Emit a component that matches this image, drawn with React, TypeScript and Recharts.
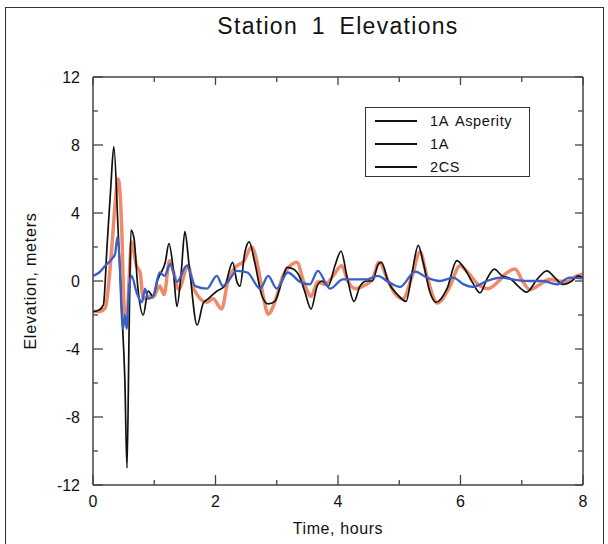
import { LineChart, Line, XAxis, YAxis, Legend } from 'recharts'

// time (hours) / elevation (m) pairs
const asperityTime = [
  0, 0.1, 0.17, 0.23, 0.29, 0.34, 0.41, 0.47, 0.52, 0.555, 0.59, 0.62, 0.67, 0.73, 0.82, 0.9, 0.98,
  1.06, 1.18, 1.24, 1.31, 1.37, 1.44, 1.5, 1.57, 1.7, 1.8, 1.88, 2.02, 2.15, 2.28, 2.35, 2.4, 2.48,
  2.55, 2.64, 2.76, 2.86, 2.97, 3.08, 3.17, 3.27, 3.38, 3.46, 3.56, 3.66, 3.74, 3.84, 3.95, 4.05,
  4.15, 4.26, 4.36, 4.47, 4.56, 4.66, 4.71, 4.82, 4.96, 5.11, 5.21, 5.31, 5.39, 5.5, 5.6, 5.78,
  5.94, 6.07, 6.19, 6.32, 6.43, 6.55, 6.68, 6.81, 6.94, 7.08, 7.25, 7.41, 7.54, 7.67, 7.82, 7.92, 8,
]
const asperityElev = [
  -1.8, -1.7, -1.4, 2.1, 5.5, 7.9, 3.0, -1.8, -5.8, -11.0, -2.8, 3.0, 2.5, -0.3, -2.0, -0.6, -0.9,
  0.1, 1.1, 2.2, 0.7, -1.5, 0.5, 2.9, 0.9, -2.6, -1.3, -1.05, -0.6, -0.3, 1.1, -0.05, -0.3, 1.7,
  2.3, 1.1, -0.9, -1.35, -1.2, -0.05, 0.8, 0.7, 0.2, -0.65, -1.65, -0.3, 0.0, -0.3, 0.9, 1.75,
  0.2, -1.2, -0.3, 0.0, 0.0, 1.0, 1.1, -0.05, -0.75, -1.2, 0.5, 2.1, 1.1, -0.65, -1.25, -0.45,
  1.2, 0.7, -0.05, -0.7, 0.1, 0.7, 0.3, 0.15, -0.3, -0.65, 0.1, 0.6, 0.2, -0.2, 0.0, 0.3, 0.2,
]

const oneATime = [
  0, 0.1, 0.2, 0.26, 0.31, 0.36, 0.41, 0.47, 0.5, 0.52, 0.55, 0.59, 0.63, 0.71, 0.77, 0.82, 0.9,
  0.98, 1.09, 1.16, 1.25, 1.31, 1.4, 1.55, 1.65, 1.86, 1.96, 2.1, 2.2, 2.35, 2.45, 2.59, 2.7, 2.78,
  2.86, 3.0, 3.1, 3.22, 3.33, 3.44, 3.56, 3.67, 3.79, 3.92, 4.06, 4.16, 4.28, 4.41, 4.56, 4.67,
  4.82, 4.93, 5.06, 5.21, 5.34, 5.45, 5.62, 5.83, 5.99, 6.12, 6.32, 6.45, 6.61, 6.73, 6.89, 7.02,
  7.13, 7.3, 7.46, 7.59, 7.74, 7.9, 8,
]
const oneAElev = [
  -1.8, -1.8, -1.6, 0.0, 2.1, 4.5, 6.0, 3.0, -0.9, -2.0, -2.6, 0.1, 2.3, 0.9, 0.5, -1.05, -0.9,
  -0.95, -0.3, -0.8, 1.2, 0.6, -0.5, 0.9, -0.5, -1.25, -1.05, -1.65, -0.05, 0.9, 1.1, 2.0, 0.7, -0.9,
  -1.95, -0.9, 0.3, 0.9, 1.1, -0.05, -0.9, -0.05, -0.2, 0.3, 0.9, 0.0, -0.45, -0.3, 0.1, 1.1,
  0.0, -0.75, -1.05, 0.3, 1.7, 0.3, -1.3, -0.3, 0.9, 0.5, -0.3, -0.45, -0.05, 0.4, 0.7, -0.05,
  -0.5, -0.2, 0.1, 0.0, -0.05, 0.3, 0.4,
]

const twoCSTime = [
  0, 0.1, 0.2, 0.31, 0.36, 0.4, 0.44, 0.46, 0.49, 0.52, 0.55, 0.59, 0.63, 0.71, 0.8, 0.85, 0.9,
  0.98, 1.09, 1.17, 1.26, 1.37, 1.53, 1.67, 1.86, 2.02, 2.12, 2.2, 2.35, 2.52, 2.73, 2.86, 3.0,
  3.18, 3.38, 3.54, 3.67, 3.87, 4.08, 4.3, 4.47, 4.65, 4.82, 5.01, 5.26, 5.45, 5.66, 5.88, 6.05,
  6.2, 6.43, 6.65, 6.92, 7.14, 7.35, 7.57, 7.78, 8,
]
const twoCSElev = [
  0.3, 0.5, 0.9, 1.3, 1.6, 2.6, 0.7, -1.25, -2.8, -2.0, -2.8, -0.3, 0.3, -0.65, -1.25, -0.45, -1.05,
  -0.9, 0.5, 0.3, 1.0, -0.05, 0.9, -0.3, -0.45, 0.3, -0.3, -0.05, 0.6, 0.5, -0.45, 0.3, -0.45,
  0.5, -0.05, -0.2, 0.6, -0.45, 0.1, 0.1, 0.1, 0.3, -0.05, -0.35, 0.55, 0.2, 0.0, 0.2, -0.2,
  -0.35, 0.0, 0.2, 0.05, 0.0, 0.0, -0.2, 0.2, 0.15,
]

const seriesNames = ['1A Asperity', '1A', '2CS']
const xTicks = [0, 1, 2, 3, 4, 5, 6, 7, 8]
const yTicks = [-12, -10, -8, -6, -4, -2, 0, 2, 4, 6, 8, 10, 12]

const toRows = (time: number[], elev: number[]) => time.map((t, i) => ({ t, v: elev[i] }))

const FONT = '"Liberation Sans", Arial, sans-serif'
const AXIS = '#444'

// ticks point into the plot; only the even ones carry a label
// eslint-disable-next-line @typescript-eslint/no-explicit-any
function BottomTick({ x, y, payload }: any) {
  const major = payload.value % 2 === 0
  return (
    <g>
      <line x1={x} x2={x} y1={y} y2={y - (major ? 10 : 5)} stroke={AXIS} strokeWidth={1.3} />
      {major && (
        <text x={x} y={y + 11} dy='0.71em' textAnchor='middle' fontSize={16} fontFamily={FONT} fill='#111'>
          {payload.value}
        </text>
      )}
    </g>
  )
}

// eslint-disable-next-line @typescript-eslint/no-explicit-any
function TopTick({ x, y, payload }: any) {
  const major = payload.value % 2 === 0
  return <line x1={x} x2={x} y1={y} y2={y + (major ? 8 : 5)} stroke={AXIS} strokeWidth={1.3} />
}

// eslint-disable-next-line @typescript-eslint/no-explicit-any
function LeftTick({ x, y, payload }: any) {
  const major = payload.value % 4 === 0
  return (
    <g>
      <line x1={x} x2={x + (major ? 10 : 5)} y1={y} y2={y} stroke={AXIS} strokeWidth={1.3} />
      {major && (
        <text x={x - 13} y={y} dy='0.355em' textAnchor='end' fontSize={16} fontFamily={FONT} fill='#111'>
          {payload.value}
        </text>
      )}
    </g>
  )
}

// eslint-disable-next-line @typescript-eslint/no-explicit-any
function RightTick({ x, y, payload }: any) {
  const major = payload.value % 4 === 0
  return <line x1={x} x2={x - (major ? 8 : 5)} y1={y} y2={y} stroke={AXIS} strokeWidth={1.3} />
}

function LegendBox() {
  return (
    <div
      style={{
        width: 163,
        height: 67,
        border: '1.5px solid #333',
        background: '#fff',
        fontFamily: FONT,
        fontSize: 14.5,
        color: '#111',
        paddingTop: 1,
        boxSizing: 'content-box',
      }}
    >
      {seriesNames.map((name) => (
        <div key={name} style={{ display: 'flex', alignItems: 'center', height: 23 }}>
          <span style={{ display: 'inline-block', width: 42, height: 0, borderTop: '2px solid #111', marginLeft: 9 }} />
          <span style={{ marginLeft: 13, letterSpacing: 0.6, wordSpacing: 3 }}>{name}</span>
        </div>
      ))}
    </div>
  )
}

export default function App() {
  return (
    <div
      style={{
        position: 'absolute',
        left: 0,
        top: 0,
        width: 608,
        height: 544,
        background: '#fff',
        overflow: 'hidden',
      }}
    >
      <div
        style={{
          position: 'absolute',
          left: 5,
          top: 7,
          width: 597,
          height: 560,
          border: '1.5px solid #333',
        }}
      />
      <div
        style={{
          position: 'absolute',
          left: 93,
          width: 490,
          top: 13,
          textAlign: 'center',
          fontFamily: FONT,
          fontSize: 23,
          color: '#111',
          letterSpacing: 1.3,
          wordSpacing: 6,
        }}
      >
        Station 1 Elevations
      </div>
      <LineChart
        width={608}
        height={544}
        margin={{ top: 76, right: 24, bottom: 58, left: 92 }}
        style={{ position: 'absolute', left: 0, top: 0 }}
      >
        <XAxis
          dataKey='t'
          type='number'
          domain={[0, 8]}
          ticks={xTicks}
          interval={0}
          height={1}
          tickSize={0}
          tickMargin={0}
          tick={<BottomTick />}
          axisLine={{ stroke: AXIS, strokeWidth: 1.5 }}
          label={{
            value: 'Time, hours',
            position: 'bottom',
            offset: 37,
            fontSize: 16,
            fontFamily: FONT,
            fill: '#111',
            style: { letterSpacing: 0.6 },
          }}
          allowDataOverflow
        />
        <XAxis
          xAxisId='top'
          orientation='top'
          dataKey='t'
          type='number'
          domain={[0, 8]}
          ticks={xTicks}
          interval={0}
          height={1}
          tickSize={0}
          tickMargin={0}
          tick={<TopTick />}
          axisLine={{ stroke: AXIS, strokeWidth: 1.5 }}
          allowDataOverflow
        />
        <YAxis
          type='number'
          domain={[-12, 12]}
          ticks={yTicks}
          interval={0}
          width={1}
          tickSize={0}
          tickMargin={0}
          tick={<LeftTick />}
          axisLine={{ stroke: AXIS, strokeWidth: 1.5 }}
          label={{
            value: 'Elevation, meters',
            angle: -90,
            position: 'left',
            offset: 62,
            fontSize: 16,
            fontFamily: FONT,
            fill: '#111',
            style: { textAnchor: 'middle', letterSpacing: 0.8 },
          }}
          allowDataOverflow
        />
        <YAxis
          yAxisId='right'
          orientation='right'
          type='number'
          domain={[-12, 12]}
          ticks={yTicks}
          interval={0}
          width={1}
          tickSize={0}
          tickMargin={0}
          tick={<RightTick />}
          axisLine={{ stroke: AXIS, strokeWidth: 1.5 }}
          allowDataOverflow
        />
        <Legend
          layout='vertical'
          align='center'
          verticalAlign='middle'
          content={<LegendBox />}
          wrapperStyle={{ left: 365, top: 107, width: 166, height: 71 }}
        />
        <Line
          data={toRows(oneATime, oneAElev)}
          dataKey='v'
          name={seriesNames[1]}
          type='monotone'
          stroke='#ec7650'
          strokeOpacity={0.85}
          strokeWidth={3.5}
          dot={false}
          isAnimationActive={false}
        />
        <Line
          data={toRows(asperityTime, asperityElev)}
          dataKey='v'
          name={seriesNames[0]}
          type='monotone'
          stroke='#111'
          strokeWidth={1.7}
          dot={false}
          isAnimationActive={false}
        />
        <Line
          data={toRows(twoCSTime, twoCSElev)}
          dataKey='v'
          name={seriesNames[2]}
          type='monotone'
          stroke='#3a5fc4'
          strokeWidth={2.3}
          dot={false}
          isAnimationActive={false}
        />
      </LineChart>
    </div>
  )
}
